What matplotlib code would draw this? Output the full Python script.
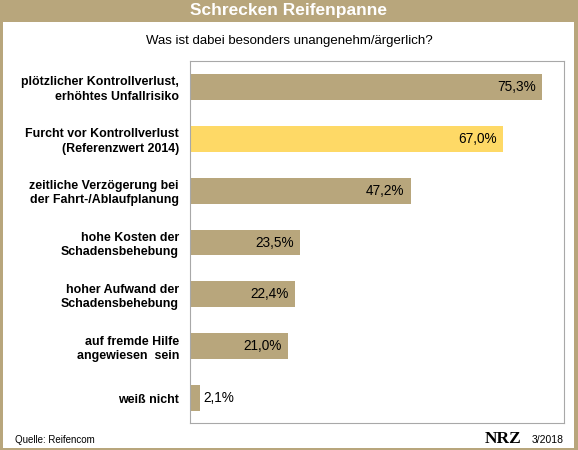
import matplotlib
matplotlib.use("Agg")
import matplotlib.pyplot as plt
from matplotlib.patches import Rectangle

plt.rcParams['font.family'] = ['Liberation Sans', 'DejaVu Sans']

labels = [
    "plötzlicher Kontrollverlust,\nerhöhtes Unfallrisiko",
    "Furcht vor Kontrollverlust\n(Referenzwert 2014)",
    "zeitliche Verzögerung bei\nder Fahrt-/Ablaufplanung",
    "hohe Kosten der\nSchadensbehebung",
    "hoher Aufwand der\nSchadensbehebung",
    "auf fremde Hilfe\nangewiesen  sein",
    "weiß nicht",
]
values = [75.3, 67.0, 47.2, 23.5, 22.4, 21.0, 2.1]
highlight = [False, True, False, False, False, False, False]

TAN = "#B8A67C"
YELLOW = "#FED966"

W, H = 578, 450
fig = plt.figure(figsize=(W / 100, H / 100), dpi=100)

# frame and header band
fig.patches.append(Rectangle((0, 0), 1, 1, transform=fig.transFigure,
                             facecolor=TAN, edgecolor="none", zorder=-2))
fig.patches.append(Rectangle((3 / W, 2 / H), (W - 7) / W, (H - 24) / H,
                             transform=fig.transFigure, facecolor="white",
                             edgecolor="none", zorder=-1))

ax = fig.add_axes([190 / W, 1 - 423 / H, (564 - 190) / W, (423 - 61) / H])
y = list(range(len(values)))
colors = [YELLOW if h else TAN for h in highlight]
ax.barh(y, values, height=0.5, color=colors)
ax.set_xlim(0, 80)
ax.set_ylim(len(values) - 0.52, -0.5)
ax.set_xticks([])
ax.set_yticks(y)
ax.set_yticklabels(labels, fontsize=8.9, fontweight="bold", linespacing=1.25)
ax.tick_params(axis="y", length=0, pad=8)
for s in ax.spines.values():
    s.set_color("#A8A8A8")
    s.set_linewidth(0.8)

for yi, v in zip(y, values):
    txt = f"{v:.1f}%".replace(".", ",")
    if v > 10:
        ax.text(v - 1.3, yi, txt, ha="right", va="center", fontsize=9.8)
    else:
        ax.text(v + 0.8, yi, txt, ha="left", va="center", fontsize=9.8)

fig.text(0.5, 1 - 11 / H, "Schrecken Reifenpanne", ha="center", va="center",
         color="white", fontsize=12.5, fontweight="bold")
fig.text(0.5, 1 - 41 / H, "Was ist dabei besonders unangenehm/ärgerlich?",
         ha="center", va="center", fontsize=9.5)
fig.text(15 / W, 1 - 440 / H, "Quelle: Reifencom", ha="left", va="center",
         fontsize=7)
fig.text(521 / W, 1 - 439 / H, "NRZ", ha="right", va="center", fontsize=12.5,
         fontweight="bold", family=["Liberation Serif", "DejaVu Serif"])
fig.text(564 / W, 1 - 440 / H, "3/2018", ha="right", va="center", fontsize=7.5)

fig.savefig("out.png", dpi=100)
